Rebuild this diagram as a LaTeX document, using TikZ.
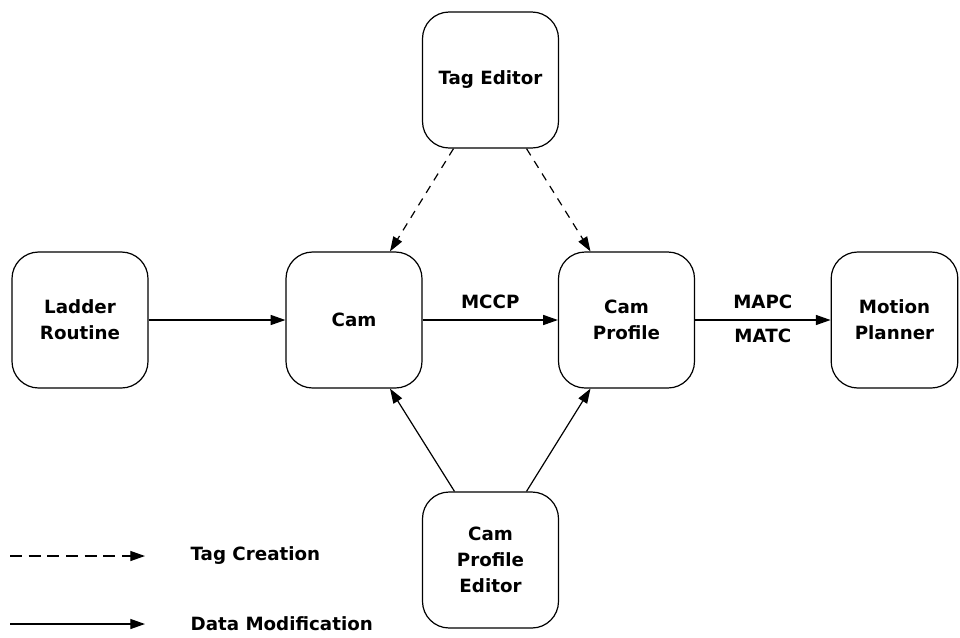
\documentclass[tikz,border=0pt]{standalone}
\usepackage{fontspec}
\setmainfont{DejaVu Sans}
\usetikzlibrary{arrows.meta,calc}

\begin{document}
\begin{tikzpicture}[x=0.75pt,y=-0.75pt,line width=0.9pt,>={Triangle[length=11pt,width=7.5pt]},
  block/.style={draw,rounded corners=20pt,minimum width=102pt,minimum height=102pt,
    inner sep=0pt,align=center,font=\bfseries\fontsize{13.7}{19.5}\selectfont},
  lbl/.style={inner sep=0pt,font=\bfseries\fontsize{13.7}{16}\selectfont},
  tagline/.style={->,dash pattern=on 6pt off 5pt},
  dataline/.style={->},
  legend/.style={dash pattern=on 9pt off 5pt}]
\useasboundingbox (0,0) rectangle (960,637);
% blocks
\node[block] (tag) at (490.5,80) {Tag Editor};
\node[block] (ladder) at (80,320) {Ladder\\Routine};
\node[block] (cam) at (354,320) {Cam};
\node[block] (prof) at (626.5,320) {Cam\\Profile};
\node[block,minimum width=95pt] (motion) at (894.5,320) {Motion\\Planner};
\node[block] (editor) at (490.5,560) {Cam\\Profile\\Editor};
% data flow
\draw[dataline] (ladder) -- (cam);
\draw[dataline] (cam) -- node[lbl,midway,above=8pt] (mccp) {MCCP} (prof);
\draw[dataline] (prof) -- node[lbl,midway,above=8pt] (mapc) {MAPC}
  node[lbl,midway,below=6pt] (matc) {MATC} (motion);
\draw[dataline] ($(editor.north)+(-36,0)$) -- ($(cam.south)+(36,0)$);
\draw[dataline] ($(editor.north)+(36,0)$) -- ($(prof.south)+(-36,0)$);
% tag creation
\draw[tagline] ($(tag.south)+(-37,0)$) -- ($(cam.north)+(36,0)$);
\draw[tagline] ($(tag.south)+(36,0)$) -- ($(prof.north)+(-36,0)$);
% legend
\coordinate (tcA) at (10,556);
\coordinate (tcB) at (145,556);
\coordinate (dmA) at (10,624);
\coordinate (dmB) at (145,624);
\draw[->,legend] (tcA) -- (tcB);
\draw[->] (dmA) -- (dmB);
\node[lbl,anchor=west] (tc) at (190,556) {Tag Creation};
\node[lbl,anchor=west] (dm) at (190,624) {Data Modification};
\end{tikzpicture}
\end{document}
